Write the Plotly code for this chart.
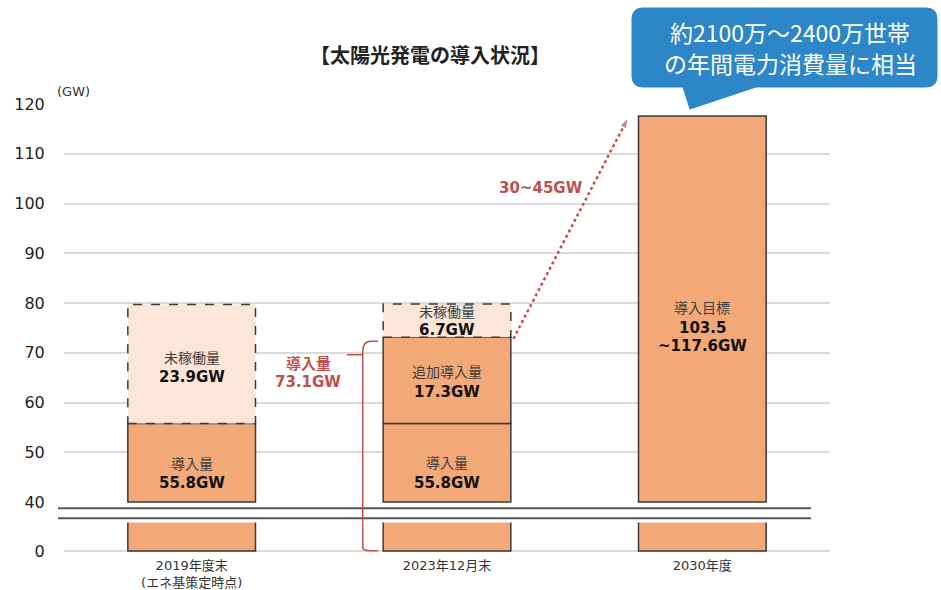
import plotly.graph_objects as go

W, H = 941, 590

# ---- data -------------------------------------------------------------
categories = ["2019年度末<br>(エネ基策定時点)", "2023年12月末", "2030年度"]
installed = [55.8, 55.8, None]      # 導入量
additional = [None, 17.3, None]     # 追加導入量
idle = [23.9, 6.7, None]            # 未稼働量
target_low = 103.5                  # 導入目標 (lower)
target_high = 117.6                 # 導入目標 (upper)
growth_text = "30~45GW"
callout_lines = ["約2100万～2400万世帯", "の年間電力消費量に相当"]
y_ticks = [0, 40, 50, 60, 70, 80, 90, 100, 110, 120]

# ---- style ------------------------------------------------------------
ORANGE = "#F3A878"
PALE = "#FCE6D8"
EDGE = "#3A3A3A"
RED = "#C0504D"
BLUE = "#2C86C8"
GRID = "#DADADA"
FONT = "DejaVu Sans, Noto Sans CJK JP, sans-serif"
CJK = "Noto Sans CJK JP, sans-serif"

ML, MR = 64, 111
PW = W - ML - MR
BAR_W = 0.5


def px_x(p):
    return (p - ML) / PW


def px_y(p):
    return 1 - p / H


floor = y_ticks[1]            # upper panel starts at 40
UPPER = [floor - 0.4, y_ticks[-1]]
LOWER = [-0.4, 5.7]
upper_domain = [px_y(504), px_y(104)]
lower_domain = [px_y(553), px_y(522.6)]

fig = go.Figure()

bar_line = dict(color=EDGE, width=1.5)

# upper panel: installed (導入量)
ix = [i for i, v in enumerate(installed) if v]
fig.add_trace(go.Bar(x=ix, y=[installed[i] - floor for i in ix], base=floor,
                     width=BAR_W, marker=dict(color=ORANGE, line=bar_line),
                     xaxis="x2", yaxis="y2", hoverinfo="skip"))
# upper panel: additional (追加導入量)
ax_ = [i for i, v in enumerate(additional) if v]
fig.add_trace(go.Bar(x=ax_, y=[additional[i] for i in ax_],
                     base=[installed[i] for i in ax_],
                     width=BAR_W, marker=dict(color=ORANGE, line=bar_line),
                     xaxis="x2", yaxis="y2", hoverinfo="skip"))
# upper panel: 2030 target
fig.add_trace(go.Bar(x=[2], y=[target_high - floor], base=floor,
                     width=BAR_W, marker=dict(color=ORANGE, line=bar_line),
                     xaxis="x2", yaxis="y2", hoverinfo="skip"))

# lower panel (0 .. break)
totals_low = [installed[0], installed[1], target_high]
fig.add_trace(go.Bar(x=[0, 1, 2], y=totals_low, width=BAR_W,
                     marker=dict(color=ORANGE, line=bar_line),
                     xaxis="x", yaxis="y", hoverinfo="skip"))

# carrier trace so the overlaid "40" axis gets drawn
fig.add_trace(go.Scatter(x=[None], y=[None], xaxis="x2", yaxis="y3",
                         mode="markers", hoverinfo="skip"))

shapes = []
# idle capacity (未稼働量) as dashed boxes
for i, v in enumerate(idle):
    if not v:
        continue
    base = installed[i] + (additional[i] or 0)
    shapes.append(dict(type="rect", xref="x2", yref="y2",
                       x0=i - BAR_W / 2, x1=i + BAR_W / 2, y0=base, y1=base + v,
                       fillcolor=PALE, line=dict(color=EDGE, width=1.5, dash="dash"),
                       layer="above"))

# axis break lines
for yb in (508.3, 518.3):
    shapes.append(dict(type="line", xref="paper", yref="paper",
                       x0=px_x(58), x1=px_x(811), y0=px_y(yb), y1=px_y(yb),
                       line=dict(color="#555555", width=2)))

# red brace for 2023 total
total_2023 = installed[1] + additional[1]
bx, bx_end, bx_notch = 0.670, 0.730, 0.608
top_y = total_2023 - 0.8
shapes.append(dict(type="path", xref="x2", yref="y2",
                   path=f"M {bx_end},{top_y} L {bx + 0.03},{top_y} "
                        f"Q {bx},{top_y} {bx},{top_y - 2.2} L {bx},{UPPER[0]}",
                   line=dict(color=RED, width=1.5)))
shapes.append(dict(type="line", xref="x2", yref="y2",
                   x0=bx_notch, x1=bx, y0=top_y - 2.7, y1=top_y - 2.7,
                   line=dict(color=RED, width=1.5)))
shapes.append(dict(type="line", xref="x", yref="paper",
                   x0=bx, x1=bx, y0=upper_domain[0], y1=lower_domain[1],
                   line=dict(color=RED, width=1.5)))
shapes.append(dict(type="path", xref="x", yref="y",
                   path=f"M {bx},{LOWER[1]} L {bx},0.7 Q {bx},0.05 {bx + 0.03},0.05 "
                        f"L {bx_end},0.05",
                   line=dict(color=RED, width=1.5)))

# callout bubble
bx0, by0, bx1, by1, r = 632, 8, 937, 87, 11
pts = [("M", bx0 + r, by0), ("L", bx1 - r, by0), ("Q", bx1, by0, bx1, by0 + r),
       ("L", bx1, by1 - r), ("Q", bx1, by1, bx1 - r, by1), ("L", 756, by1),
       ("L", 690, 109), ("L", 683, by1), ("L", bx0 + r, by1),
       ("Q", bx0, by1, bx0, by1 - r), ("L", bx0, by0 + r),
       ("Q", bx0, by0, bx0 + r, by0)]
parts = []
for p in pts:
    cmd, coords = p[0], p[1:]
    xy = " ".join(f"{px_x(coords[k]):.5f},{px_y(coords[k + 1]):.5f}"
                  for k in range(0, len(coords), 2))
    parts.append(f"{cmd} {xy}")
shapes.append(dict(type="path", xref="paper", yref="paper",
                   path=" ".join(parts) + " Z", fillcolor=BLUE,
                   line=dict(color=BLUE, width=1)))

# dotted growth arrow from 2023 top to 2030 top
fig.add_trace(go.Scatter(
    x=[1 + BAR_W / 2 + 0.01, 2 - BAR_W / 2 - 0.041],
    y=[total_2023 - 0.3, target_high - 0.4],
    mode="lines+markers", xaxis="x2", yaxis="y2",
    line=dict(color=RED, width=2.5, dash="dot"),
    marker=dict(symbol="arrow", size=[0, 11], color=RED, angleref="previous"),
    hoverinfo="skip"))

annotations = []


def label(x, y, text, size, color="#3F3F3F", bold=False, ref=("x2", "y2"), **kw):
    annotations.append(dict(x=x, y=y, xref=ref[0], yref=ref[1],
                            xanchor="center", yanchor="middle",
                            text=f"<b>{text}</b>" if bold else text,
                            showarrow=False, font=dict(size=size, color=color),
                            **kw))


# 2019
label(0, 68.9, "未稼働量", 14)
label(0, 65.1, f"{idle[0]}GW", 15, "#111111", True)
label(0, 47.6, "導入量", 14)
label(0, 43.8, f"{installed[0]}GW", 15, "#111111", True)
# 2023
label(1, 78.25, "未稼働量", 14)
label(1, 74.6, f"{idle[1]}GW", 15, "#111111", True)
label(1, 66.2, "追加導入量", 14)
label(1, 62.2, f"{additional[1]}GW", 15, "#111111", True)
label(1, 47.8, "導入量", 14)
label(1, 43.9, f"{installed[1]}GW", 15, "#111111", True)
# 2030
label(2, 79.0, "導入目標", 14)
label(2, 75.0, f"{target_low}", 15, "#111111", True)
label(2, 71.4, f"~{target_high}GW", 15, "#111111", True)
# red notes
label(0.4556, 67.7, "導入量", 15, RED, True)
label(0.4556, 64.1, f"{total_2023:.1f}GW", 15, RED, True)
label(1.368, 103.1, growth_text, 15, RED, True)

# title, unit, callout text
annotations.append(dict(x=px_x(430), y=px_y(55), xref="paper", yref="paper",
                        xanchor="center", yanchor="middle",
                        text="<b>【太陽光発電の導入状況】</b>", showarrow=False,
                        font=dict(size=20, color="#222222", family=CJK)))
annotations.append(dict(x=px_x(55), y=px_y(92), xref="paper", yref="paper",
                        xanchor="left", yanchor="middle", text="(GW)",
                        showarrow=False, font=dict(size=13, color="#333333")))
for line_text, line_y in zip(callout_lines, (32, 63)):
    annotations.append(dict(x=px_x(790), y=px_y(line_y), xref="paper", yref="paper",
                            xanchor="center", yanchor="middle", text=line_text,
                            showarrow=False,
                            font=dict(size=23, color="white", family=CJK)))

ytick_font = dict(size=16, color="#222222")
common_y = dict(showline=False, zeroline=False, ticks="outside", ticklen=0,
                tickcolor="rgba(0,0,0,0)", ticklabelstandoff=15,
                tickfont=ytick_font, automargin=False, fixedrange=True)

fig.update_layout(
    width=W, height=H,
    margin=dict(l=ML, r=MR, t=0, b=0),
    paper_bgcolor="white", plot_bgcolor="white",
    font=dict(family=FONT, color="#333333"),
    barmode="overlay", showlegend=False,
    xaxis=dict(domain=[0, 1], range=[-0.5, 2.5], anchor="y",
               tickvals=[0, 1, 2], ticktext=categories, showgrid=False,
               zeroline=False, showline=False, ticks="outside", ticklen=0,
               tickcolor="rgba(0,0,0,0)", tickfont=dict(size=13, color="#333333"),
               automargin=False, fixedrange=True),
    xaxis2=dict(matches="x", anchor="y2", range=[-0.5, 2.5], showticklabels=False,
                showgrid=False, zeroline=False, showline=False, automargin=False),
    yaxis=dict(domain=lower_domain, range=LOWER, anchor="x",
               tickvals=[v for v in y_ticks if v < floor],
               showgrid=True, gridcolor=GRID, gridwidth=1.5, **common_y),
    yaxis2=dict(domain=upper_domain, range=UPPER, anchor="x2",
                tickvals=[v for v in y_ticks if v > floor],
                showgrid=True, gridcolor=GRID, gridwidth=1.5, **common_y),
    yaxis3=dict(overlaying="y2", range=UPPER, anchor="x2", side="left",
                tickvals=[floor], showgrid=False, **common_y),
    shapes=shapes, annotations=annotations,
)

fig.write_html("out.html")
